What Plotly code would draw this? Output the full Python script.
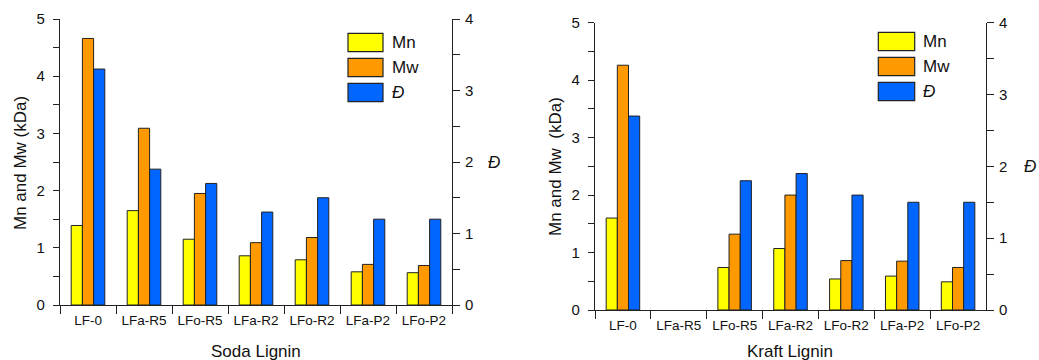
import plotly.graph_objects as go

categories = ["LF-0", "LFa-R5", "LFo-R5", "LFa-R2", "LFo-R2", "LFa-P2", "LFo-P2"]

soda_mn = [1.39, 1.65, 1.15, 0.86, 0.79, 0.58, 0.565]
soda_mw = [4.66, 3.09, 1.95, 1.09, 1.18, 0.71, 0.69]
soda_d = [3.30, 1.90, 1.70, 1.30, 1.50, 1.20, 1.20]

kraft_mn = [1.60, None, 0.74, 1.07, 0.54, 0.59, 0.49]
kraft_mw = [4.26, None, 1.32, 2.00, 0.86, 0.85, 0.74]
kraft_d = [2.70, None, 1.80, 1.90, 1.60, 1.50, 1.50]

left_ticks = [0, 1, 2, 3, 4, 5]
right_ticks = [0, 1, 2, 3, 4]

W, H = 1039, 360
def px(x):
    return x / W
def py(y):
    return 1 - y / H

C_MN = "#FFFF00"
C_MW = "#FF9900"
C_D = "#0066FF"
EDGE = "#222222"
FONT = "Liberation Sans, Arial, sans-serif"

fig = go.Figure()

def add_bars(xa, ya, ya2, mn, mw, d):
    common = dict(x=categories, width=0.2, xaxis=xa, showlegend=False,
                  marker_line_color=EDGE, marker_line_width=1)
    fig.add_trace(go.Bar(y=mn, name="Mn", yaxis=ya, offset=-0.3,
                         marker_color=C_MN, **common))
    fig.add_trace(go.Bar(y=mw, name="Mw", yaxis=ya, offset=-0.1,
                         marker_color=C_MW, **common))
    fig.add_trace(go.Bar(y=d, name="Đ", yaxis=ya2, offset=0.1,
                         marker_color=C_D, **common))

add_bars("x", "y", "y2", soda_mn, soda_mw, soda_d)
add_bars("x2", "y3", "y4", kraft_mn, kraft_mw, kraft_d)

dom_x1 = [px(60), px(452)]
dom_y1 = [py(305), py(19)]
dom_x2 = [px(595), px(986)]
dom_y2 = [py(310), py(22.7)]

xcommon = dict(type="category", categoryorder="array", categoryarray=categories,
               range=[-0.5, 6.5], showline=True, linecolor=EDGE, linewidth=1.2,
               ticks="outside", tickson="boundaries", ticklen=8, tickcolor=EDGE,
               tickwidth=1.2, showgrid=False, zeroline=False, automargin=False,
               ticklabelstandoff=3,
               tickfont=dict(family=FONT, size=13.5, color="#111"))
ylcommon = dict(range=[0, 5], tickvals=left_ticks, showline=True, linecolor=EDGE,
                linewidth=1.2, ticks="outside", ticklen=6, tickcolor=EDGE, tickwidth=1.2,
                minor=dict(dtick=0.5, ticks="outside", ticklen=6, tickcolor=EDGE, tickwidth=1.2),
                showgrid=False, zeroline=False, automargin=False,
                ticklabelstandoff=5,
                tickfont=dict(family=FONT, size=15, color="#111"))
yrcommon = dict(range=[0, 4], tickvals=right_ticks, showline=True, linecolor=EDGE,
                linewidth=1.2, ticks="outside", ticklen=7, tickcolor=EDGE, tickwidth=1.2,
                minor=dict(dtick=0.5, ticks="outside", ticklen=7, tickcolor=EDGE, tickwidth=1.2),
                showgrid=False, zeroline=False, automargin=False, side="right",
                ticklabelstandoff=2,
                tickfont=dict(family=FONT, size=15, color="#111"))

fig.update_layout(
    width=W, height=H,
    margin=dict(l=0, r=0, t=0, b=0),
    paper_bgcolor="white", plot_bgcolor="white",
    barmode="overlay",
    font=dict(family=FONT, color="#111"),
    xaxis=dict(domain=dom_x1, anchor="y", **xcommon),
    yaxis=dict(domain=dom_y1, anchor="x", **ylcommon),
    yaxis2=dict(domain=dom_y1, anchor="x", overlaying="y", **yrcommon),
    xaxis2=dict(domain=dom_x2, anchor="y3", **xcommon),
    yaxis3=dict(domain=dom_y2, anchor="x2", **ylcommon),
    yaxis4=dict(domain=dom_y2, anchor="x2", overlaying="y3", **yrcommon),
)

annotations = []
def ann(text, x, y, size=17, angle=0, italic=False, xanchor="center"):
    annotations.append(dict(text=text, x=px(x), y=py(y), xref="paper", yref="paper",
                            showarrow=False, textangle=angle, xanchor=xanchor, yanchor="middle",
                            font=dict(family=FONT, size=size, color="#111",
                                      style="italic" if italic else "normal")))

ann("Mn and Mw (kDa)", 21, 163, angle=-90)
ann("Đ", 494, 163, italic=True)
ann("Soda Lignin", 256, 351)
ann("Mn and Mw\u00a0\u00a0(kDa)", 555, 167, angle=-90)
ann("Đ", 1030, 166, italic=True)
ann("Kraft Lignin", 790, 351)

shapes = []
def legend(x0, x1, ys, xt):
    for (ya, yb), col, lab in zip(ys, [C_MN, C_MW, C_D], ["Mn", "Mw", "Đ"]):
        shapes.append(dict(type="rect", xref="paper", yref="paper",
                           x0=px(x0), x1=px(x1), y0=py(yb), y1=py(ya),
                           fillcolor=col, line=dict(color=EDGE, width=1.2)))
        ann(lab, xt, (ya + yb) / 2, italic=(lab == "Đ"), xanchor="left")

legend(348, 383, [(33.3, 51.7), (58.3, 76.7), (83.3, 101.7)], 390)
legend(878.3, 914.7, [(32.3, 50.7), (57.3, 75.7), (82.3, 100.7)], 921)

fig.update_layout(annotations=annotations, shapes=shapes)

fig.write_html("out.html", config={"displayModeBar": False},
               post_script="document.body.style.margin='0px';document.body.style.padding='0px';")
